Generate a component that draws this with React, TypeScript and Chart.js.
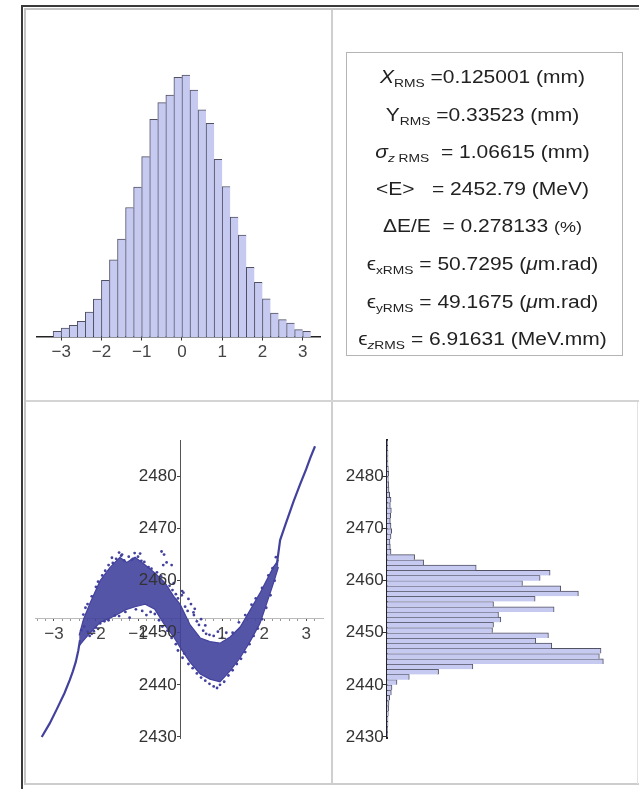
import React, { useEffect, useRef } from 'react';
import { Chart, registerables } from 'chart.js';

Chart.register(...registerables);

const FONT = "'Liberation Sans', Arial, sans-serif";
const BAR_FILL = 'rgb(198,202,240)';
const BAR_EDGE = 'rgba(50,50,72,0.85)';
const PT = 'rgb(66,66,158)';

// ---------- Top-left: z histogram (mm) ----------
const Z_BIN_CENTERS = [-3.1, -2.9, -2.7, -2.5, -2.3, -2.1, -1.9, -1.7, -1.5, -1.3, -1.1, -0.9, -0.7, -0.5, -0.3, -0.1,
  0.1, 0.3, 0.5, 0.7, 0.9, 1.1, 1.3, 1.5, 1.7, 1.9, 2.1, 2.3, 2.5, 2.7, 2.9, 3.1];
const Z_COUNTS = [17, 27, 35, 47, 75, 114, 170, 232, 294, 389, 450, 542, 654, 704, 727, 780,
  787, 742, 682, 642, 534, 452, 360, 306, 209, 164, 115, 72, 52, 42, 22, 17];
const Z_TICKS = [-3, -2, -1, 0, 1, 2, 3];

// ---------- Bottom-right: energy histogram (MeV) ----------
const E_BIN_CENTERS = [2430.5, 2431.5, 2432.5, 2433.5, 2434.5, 2435.5, 2436.5, 2437.5, 2438.5, 2439.5,
  2440.5, 2441.5, 2442.5, 2443.5, 2444.5, 2445.5, 2446.5, 2447.5, 2448.5, 2449.5,
  2450.5, 2451.5, 2452.5, 2453.5, 2454.5, 2455.5, 2456.5, 2457.5, 2458.5, 2459.5,
  2460.5, 2461.5, 2462.5, 2463.5, 2464.5, 2465.5, 2466.5, 2467.5, 2468.5, 2469.5,
  2470.5, 2471.5, 2472.5, 2473.5, 2474.5, 2475.5, 2476.5, 2477.5, 2478.5, 2479.5,
  2480.5, 2481.5, 2482.5, 2483.5, 2484.5, 2485.5, 2486.5];
const E_COUNTS = [2, 2, 3, 3, 4, 5, 6, 8, 13, 15,
  30, 67, 155, 258, 650, 638, 643, 495, 447, 485,
  317, 320, 342, 335, 502, 320, 445, 575, 522, 407,
  460, 490, 268, 110, 83, 12, 10, 9, 12, 14,
  12, 10, 11, 13, 10, 12, 8, 6, 5, 4,
  5, 4, 3, 3, 3, 2, 2];
const E_TICKS = [2430, 2440, 2450, 2460, 2470, 2480];

// ---------- Bottom-left: z / E phase space ----------
const PS_X_TICKS = [-3, -2, -1, 1, 2, 3];
const PS_X_MINOR = [-3.4, -3.2, -2.8, -2.6, -2.4, -2.2, -1.8, -1.6, -1.4, -1.2, -0.8, -0.6, -0.4, -0.2,
  0.2, 0.4, 0.6, 0.8, 1.2, 1.4, 1.6, 1.8, 2.2, 2.4, 2.6, 2.8, 3.2];
const PS_AXIS_E = 2452.79;

const BAND_X = [-2.40, -2.30, -2.14, -1.90, -1.67, -1.43, -1.27, -1.07, -0.83, -0.60, -0.36, -0.15, 0.00,
  0.24, 0.48, 0.71, 0.95, 1.19, 1.43, 1.67, 1.90, 2.06, 2.22, 2.34];
const BAND_UPPER = [2449.5, 2452.5, 2455.7, 2460.0, 2462.5, 2464.5, 2463.5, 2464.5, 2463.0, 2461.5, 2459.6, 2457.0, 2455.5,
  2451.5, 2449.0, 2448.3, 2448.0, 2449.2, 2451.1, 2454.4, 2457.6, 2460.1, 2462.6, 2464.0];
const BAND_LOWER = [2447.5, 2448.5, 2450.0, 2452.0, 2452.8, 2453.8, 2454.5, 2455.0, 2455.5, 2454.5, 2451.4, 2449.2, 2447.2,
  2444.3, 2442.1, 2441.1, 2440.6, 2442.7, 2445.2, 2448.4, 2451.8, 2455.6, 2459.5, 2462.6];

const TAIL_LEFT_X = [-3.29, -3.10, -2.94, -2.75, -2.62, -2.55, -2.48, -2.42, -2.38];
const TAIL_LEFT_Y = [2430.0, 2432.6, 2435.2, 2438.4, 2441.0, 2442.6, 2444.4, 2446.6, 2448.6];
const TAIL_RIGHT_X = [2.30, 2.38, 2.50, 2.60, 2.70, 2.85, 3.00, 3.10, 3.21];
const TAIL_RIGHT_Y = [2463.0, 2467.8, 2470.6, 2472.9, 2475.2, 2478.4, 2481.4, 2483.6, 2485.8];

const DOTS_X = [-2.30, -2.25, -2.20, -2.10, -2.00, -1.95, -1.85, -1.78, -1.70, -1.60, -1.52, -1.45, -1.40, -1.33,
  -1.22, -1.15, -1.08, -1.00, -0.92, -0.85, -0.75, -0.68, -0.55, -0.45, -0.38, -0.32, -0.25, -0.18, -0.10, -0.05,
  0.05, 0.04, 0.12, 0.18, 0.26, 0.33, 0.40, 0.45, 0.55, 0.62, 0.70, 0.80, 0.90, 1.00, 1.10,
  -2.10, -2.00, -1.90, -1.80, -1.70, -1.55, -1.45, -1.30, -1.20, -1.05, -0.90, -0.80, -0.70, -0.60, -0.50,
  -0.42, -0.30, -0.20, -0.10,
  0.10, 0.20, 0.30, 0.40, 0.50, 0.60, 0.70, 0.80, 0.88, 0.95, 1.05, 1.15, 1.25, 1.35, 1.45, 1.55, 1.65, 1.75,
  1.85, 1.95, 2.05, 2.15, 2.25,
  1.25, 1.40, 1.55, 1.70, 1.80, 1.95, 2.10, 2.20, 2.28,
  -0.44, -0.40, -0.20, -0.15, 0.08, 0.32,
  -2.35, -2.28, -2.20, -2.15, -2.05, -1.95, -0.05, 0.06, 0.35, 0.50, 0.60, 0.20, -1.62, -1.38, -1.12, -0.95];
const DOTS_Y = [2453.5, 2454.8, 2455.5, 2457.0, 2458.8, 2459.8, 2461.0, 2461.9, 2463.0, 2463.4, 2464.2, 2465.4, 2464.8, 2463.9,
  2464.6, 2464.0, 2465.3, 2464.6, 2463.8, 2463.6, 2462.6, 2462.3, 2461.6, 2460.8, 2465.0, 2463.5, 2459.0, 2458.2, 2457.4, 2456.6,
  2458.0, 2457.2, 2455.0, 2454.2, 2455.5, 2453.4, 2452.2, 2451.5, 2450.4, 2449.8, 2449.6, 2449.4, 2450.2, 2449.0, 2450.0,
  2449.8, 2451.0, 2451.8, 2452.2, 2452.4, 2453.3, 2453.2, 2454.0, 2452.9, 2454.5, 2454.2, 2453.4, 2454.0, 2453.6, 2452.4,
  2451.2, 2450.4, 2449.0, 2447.8,
  2446.0, 2444.0, 2443.2, 2442.2, 2441.4, 2440.8, 2440.2, 2439.7, 2439.4, 2440.0, 2440.6, 2441.8, 2442.8, 2444.0, 2445.0,
  2446.3, 2447.8, 2449.4, 2450.8, 2452.6, 2454.8, 2457.2, 2460.0,
  2450.0, 2452.0, 2453.4, 2455.4, 2456.6, 2458.6, 2461.0, 2462.4, 2464.5,
  2465.6, 2463.0, 2463.0, 2459.5, 2457.7, 2453.9,
  2450.5, 2451.2, 2450.2, 2449.4, 2450.3, 2450.8, 2446.6, 2445.2, 2454.6, 2452.6, 2451.4, 2456.5, 2464.4, 2465.0, 2464.2, 2465.2];

const minus = (v: number) => (v < 0 ? '\u2212' + Math.abs(v) : String(v));

function useChart(ref: React.RefObject<HTMLCanvasElement | null>, make: () => any) {
  useEffect(() => {
    if (!ref.current) return;
    const chart = new Chart(ref.current, make());
    return () => chart.destroy();
  }, []);
}

const tickFont = { family: FONT, size: 17 };

function ZHist() {
  const ref = useRef<HTMLCanvasElement>(null);
  useChart(ref, () => ({
    type: 'bar',
    data: {
      datasets: [{
        data: Z_BIN_CENTERS.map((x, i) => ({ x, y: Z_COUNTS[i] })),
        backgroundColor: BAR_FILL,
        borderColor: BAR_EDGE,
        borderWidth: { left: 1, top: 1, right: 0, bottom: 0 },
        borderSkipped: false,
        barPercentage: 1,
        categoryPercentage: 1,
      }],
    },
    options: {
      responsive: false, animation: false, devicePixelRatio: 1,
      layout: { padding: { left: 11, right: 11, top: 50, bottom: 63 }, autoPadding: false },
      plugins: { legend: { display: false }, tooltip: { enabled: false } },
      scales: {
        x: {
          type: 'linear', min: -3.6, max: 3.43, offset: false, position: { y: 0 },
          afterBuildTicks: (s: any) => { s.ticks = Z_TICKS.map((v) => ({ value: v })); },
          ticks: { callback: (v: number) => minus(v), font: tickFont, color: '#444', padding: 2, maxRotation: 0, autoSkip: false },
          grid: { drawOnChartArea: false, drawTicks: true, tickLength: 3, color: '#333', offset: false },
          border: { display: true, color: '#222', width: 1.5 },
        },
        y: { display: false, min: 0, max: 832 },
      },
    },
  }));
  return <canvas ref={ref} width={305} height={390} style={{ position: 'absolute', left: 26, top: 10 }} />;
}

function EHist() {
  const ref = useRef<HTMLCanvasElement>(null);
  useChart(ref, () => ({
    type: 'bar',
    data: {
      datasets: [{
        data: E_BIN_CENTERS.map((y, i) => ({ x: E_COUNTS[i], y })),
        backgroundColor: BAR_FILL,
        borderColor: BAR_EDGE,
        borderWidth: { left: 0, top: 1, right: 1, bottom: 0 },
        borderSkipped: false,
        barPercentage: 1,
        categoryPercentage: 1,
      }],
    },
    options: {
      indexAxis: 'y',
      responsive: false, animation: false, devicePixelRatio: 1,
      layout: { padding: { left: 54, right: 17, top: 38, bottom: 46 }, autoPadding: false },
      plugins: { legend: { display: false }, tooltip: { enabled: false } },
      scales: {
        x: { type: 'linear', display: false, min: 0, max: 700 },
        y: {
          type: 'linear', min: 2429.8, max: 2487, offset: false, position: { x: 0 },
          afterBuildTicks: (s: any) => { s.ticks = E_TICKS.map((v) => ({ value: v })); },
          ticks: { callback: (v: number) => String(v) + '\u2009', font: tickFont, color: '#333', padding: 3, autoSkip: false },
          grid: { drawOnChartArea: false, drawTicks: true, tickLength: 4, color: '#333', offset: false },
          border: { display: true, color: '#222', width: 2 },
        },
      },
    },
  }));
  return <canvas ref={ref} width={304} height={382} style={{ position: 'absolute', left: 333, top: 402 }} />;
}

function PhaseSpace() {
  const ref = useRef<HTMLCanvasElement>(null);
  useChart(ref, () => ({
    type: 'line',
    data: {
      datasets: [
        { data: BAND_X.map((x, i) => ({ x, y: BAND_UPPER[i] })), borderColor: PT, borderWidth: 1.2, pointRadius: 0, fill: false },
        { data: BAND_X.map((x, i) => ({ x, y: BAND_LOWER[i] })), borderColor: PT, borderWidth: 1.2, pointRadius: 0, fill: '-1', backgroundColor: 'rgba(66,66,158,0.9)' },
        { data: TAIL_LEFT_X.map((x, i) => ({ x, y: TAIL_LEFT_Y[i] })), borderColor: PT, borderWidth: 2.2, pointRadius: 0, fill: false },
        { data: TAIL_RIGHT_X.map((x, i) => ({ x, y: TAIL_RIGHT_Y[i] })), borderColor: PT, borderWidth: 2.2, pointRadius: 0, fill: false },
        { data: DOTS_X.map((x, i) => ({ x, y: DOTS_Y[i] })), showLine: false, pointRadius: 1.4, pointBackgroundColor: PT, pointBorderWidth: 0, fill: false },
      ],
    },
    options: {
      responsive: false, animation: false, devicePixelRatio: 1,
      layout: { padding: { left: 9, right: 8, top: 38, bottom: 46 }, autoPadding: false },
      plugins: { legend: { display: false }, tooltip: { enabled: false } },
      scales: {
        x: {
          type: 'linear', min: -3.45, max: 3.4, position: { y: PS_AXIS_E },
          afterBuildTicks: (s: any) => { s.ticks = PS_X_TICKS.concat(PS_X_MINOR).sort((a, b) => a - b).map((v) => ({ value: v })); },
          ticks: { callback: (v: number) => (Number.isInteger(v) ? minus(v) : ''), font: tickFont, color: '#444', padding: 4, maxRotation: 0, autoSkip: false, z: 1 },
          grid: { drawOnChartArea: false, drawTicks: true, tickLength: 2, color: (c: any) => (c.tick && Number.isInteger(c.tick.value) ? '#555' : '#999') },
          border: { display: true, color: '#bbb', width: 1 },
        },
        y: {
          type: 'linear', min: 2429.8, max: 2487, position: { x: 0 },
          afterBuildTicks: (s: any) => { s.ticks = E_TICKS.map((v) => ({ value: v })); },
          ticks: { callback: (v: number) => String(v) + '\u2009', font: tickFont, color: '#333', padding: 3, autoSkip: false, z: 1 },
          grid: { drawOnChartArea: false, drawTicks: true, tickLength: 3, color: '#444' },
          border: { display: true, color: '#555', width: 1 },
        },
      },
    },
  }));
  return <canvas ref={ref} width={305} height={382} style={{ position: 'absolute', left: 26, top: 402 }} />;
}

const sub = (t: React.ReactNode) => (
  <span style={{ fontSize: 11.5, position: 'relative', top: 4 }}>{t}</span>
);

const STAT_LINES: React.ReactNode[] = [
  <><i>X</i>{sub('RMS')} =0.125001 (mm)</>,
  <>Y{sub('RMS')} =0.33523 (mm)</>,
  <><i>σ</i>{sub(<><i>z</i> RMS</>)}{'\u00a0\u00a0= 1.06615 (mm)'}</>,
  <>{'<E>\u00a0\u00a0\u00a0= 2452.79 (MeV)'}</>,
  <>{'ΔE/E\u00a0\u00a0= 0.278133 '}<span style={{ fontSize: 15 }}>(%)</span></>,
  <>ϵ{sub('xRMS')} = 50.7295 (<i>μ</i>m.rad)</>,
  <>ϵ{sub('yRMS')} = 49.1675 (<i>μ</i>m.rad)</>,
  <>ϵ{sub(<><i>z</i>RMS</>)} = 6.91631 (MeV.mm)</>,
];
const STAT_LINE_CENTERS = [77.3, 115, 151.7, 188.5, 226, 264, 301.7, 339];

function StatsBox() {
  return (
    <div style={{ position: 'absolute', left: 346, top: 52, width: 275, height: 302, border: '1px solid #b4b4b4' }}>
      {STAT_LINES.map((ln, i) => (
        <div key={i} style={{
          position: 'absolute', left: -2, width: 275, top: STAT_LINE_CENTERS[i] - 53 - 15, height: 30,
          lineHeight: '30px', textAlign: 'center', whiteSpace: 'nowrap',
          fontFamily: FONT, fontSize: 17.5, color: '#222', transform: 'scaleX(1.2)', transformOrigin: '50% 50%',
        }}>{ln}</div>
      ))}
    </div>
  );
}

export default function App() {
  return (
    <div style={{ position: 'absolute', left: 0, top: 0, width: 639, height: 789, overflow: 'hidden', background: '#fff' }}>
      <div style={{ position: 'absolute', left: 21, top: 5, width: 700, height: 800, borderLeft: '2px solid #3a3a3a', borderTop: '2px solid #3a3a3a' }} />
      <div style={{ position: 'absolute', left: 24, top: 8, width: 700, height: 777, boxSizing: 'border-box', borderLeft: '2px solid #c4c4c4', borderTop: '2px solid #c4c4c4', borderBottom: '2px solid #cdcdcd' }} />
      <div style={{ position: 'absolute', left: 331, top: 10, width: 2, height: 774, background: '#cfcfcf' }} />
      <div style={{ position: 'absolute', left: 26, top: 400, width: 613, height: 2, background: '#d4d4d4' }} />
      <div style={{ position: 'absolute', left: 637, top: 402, width: 1, height: 382, background: '#e2e2e2' }} />
      <ZHist />
      <StatsBox />
      <PhaseSpace />
      <EHist />
    </div>
  );
}
